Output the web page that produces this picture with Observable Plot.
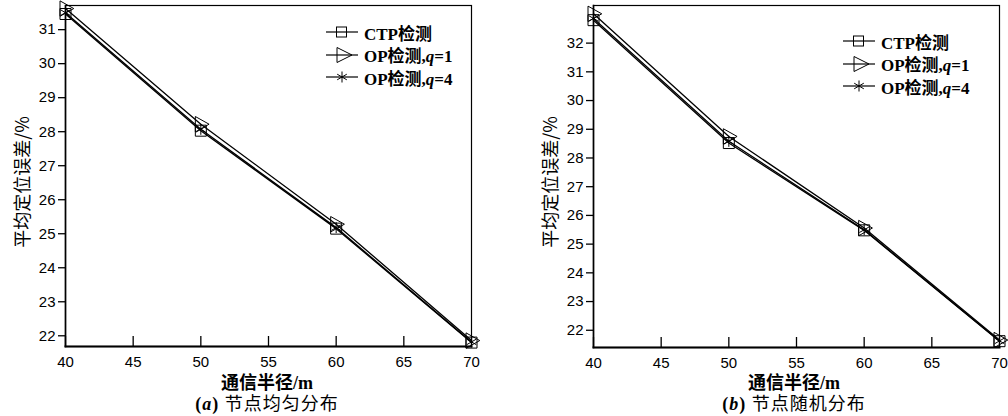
<!DOCTYPE html>
<html>
<head>
<meta charset="utf-8">
<script src="https://cdn.jsdelivr.net/npm/d3@7"></script>
<script src="https://cdn.jsdelivr.net/npm/@observablehq/plot@0.6"></script>
<style>
  html, body { margin: 0; padding: 0; background: #fff; }
  body { width: 1008px; height: 416px; overflow: hidden; position: relative; color: #000; }
  .panel { position: absolute; top: 0; width: 504px; height: 416px; }
  .panel svg { display: block; }
  .lbl { position: absolute; white-space: nowrap; transform: translate(-50%, -50%); color: #000; }
  .xlab { font-family: "Liberation Serif", "Noto Sans CJK SC", serif; font-weight: bold; font-size: 18px; }
  .cap { font-family: "Liberation Serif", "Noto Sans CJK SC", serif; font-size: 18px; letter-spacing: 1px; }
  .ylab { font-family: "Noto Sans CJK SC", sans-serif; font-size: 18px; transform: translate(-50%, -50%) rotate(-90deg); }
  .legend { position: absolute; font-family: "Liberation Serif", "Noto Sans CJK SC", serif; font-weight: bold; font-size: 17px; }
  .legend .row { display: flex; align-items: center; height: 22.5px; }
  .legend svg { margin-right: 4px; }
</style>
</head>
<body>
<script>
// ---- data ----
const radius = [40, 50, 60, 70];
const seriesNames = ["CTP检测", "OP检测,q=1", "OP检测,q=4"];
// (a) 节点均匀分布
const uniformCTP = [31.46, 28.03, 25.15, 21.80];
const uniformQ1  = [31.62, 28.22, 25.28, 21.86];
const uniformQ4  = [31.50, 28.07, 25.18, 21.82];
// (b) 节点随机分布
const randomCTP = [32.80, 28.52, 25.48, 21.62];
const randomQ1  = [33.02, 28.75, 25.56, 21.66];
const randomQ4  = [32.86, 28.58, 25.50, 21.63];
const xTicks  = [40, 45, 50, 55, 60, 65, 70];
const yTicksA = [22, 23, 24, 25, 26, 27, 28, 29, 30, 31];
const yTicksB = [22, 23, 24, 25, 26, 27, 28, 29, 30, 31, 32];
const xLabel = "通信半径/m";
const yLabel = "平均定位误差/%";
const captionA = ["(", "a", ") 节点均匀分布"];
const captionB = ["(", "b", ") 节点随机分布"];

// ---- symbols ----
const symSquare = {draw(ctx, size) { const r = Math.sqrt(size / Math.PI);
  ctx.moveTo(-r, -r); ctx.lineTo(r, -r); ctx.lineTo(r, r); ctx.lineTo(-r, r); ctx.closePath(); }};
const symTri = {draw(ctx, size) { const r = Math.sqrt(size / Math.PI);
  ctx.moveTo(-r, -1.4 * r); ctx.lineTo(1.5 * r, 0); ctx.lineTo(-r, 1.4 * r); ctx.closePath(); }};
const symAst = {draw(ctx, size) { const r = Math.sqrt(size / Math.PI);
  const c = r * Math.cos(Math.PI / 6), s = r * Math.sin(Math.PI / 6);
  ctx.moveTo(0, -r); ctx.lineTo(0, r);
  ctx.moveTo(-c, -s); ctx.lineTo(c, s);
  ctx.moveTo(-c, s); ctx.lineTo(c, -s); }};

function rows(seriesValues) {
  return seriesValues.flatMap((vals, i) => vals.map((v, j) => ({r: radius[j], v, s: seriesNames[i]})));
}

function makePanel(values, yDomain, yTicks, m) {
  const data = rows(values);
  return Plot.plot({
    width: 504, height: 416,
    marginLeft: m[0], marginRight: m[1], marginTop: m[2], marginBottom: m[3],
    x: {domain: [40, 70]},
    y: {domain: yDomain},
    symbol: {domain: seriesNames, range: [symSquare, symTri, symAst]},
    style: {fontFamily: "'Liberation Sans', Arial, sans-serif", fontSize: "15px", color: "#000", background: "transparent", overflow: "visible"},
    marks: [
      Plot.frame({stroke: "#000", strokeWidth: 1.2}),
      Plot.frame({anchor: "bottom", stroke: "#000", strokeWidth: 2}),
      Plot.frame({anchor: "left", stroke: "#000", strokeWidth: 1.6}),
      Plot.axisX({ticks: xTicks, tickSize: -10, tickFormat: () => "", label: null, strokeWidth: 1.3}),
      Plot.axisX({ticks: xTicks, tickSize: 0, tickPadding: 10, label: null, fontSize: 15}),
      Plot.axisY({ticks: yTicks, tickSize: 7, tickPadding: 3, label: null, fontSize: 15, strokeWidth: 1.3}),
      Plot.line(data, {x: "r", y: "v", z: "s", stroke: "#000", strokeWidth: 1.3}),
      Plot.dot(data, {x: "r", y: "v", symbol: "s", r: 5.5, stroke: "#000", fill: "none", strokeWidth: 1})
    ]
  });
}

function addLabel(cls, x, y, html) {
  const d = document.createElement("div");
  d.className = "lbl " + cls;
  d.style.left = x + "px"; d.style.top = y + "px";
  d.innerHTML = html;
  document.body.appendChild(d);
}

const legendSvgs = [
  '<svg width="34" height="18"><line x1="0" y1="9" x2="32" y2="9" stroke="#000" stroke-width="1.2"/><rect x="10.5" y="4" width="10" height="10" fill="none" stroke="#000"/></svg>',
  '<svg width="34" height="18"><line x1="0" y1="9" x2="32" y2="9" stroke="#000" stroke-width="1.2"/><path d="M11,1.5L26,9L11,16.5Z" fill="none" stroke="#000"/></svg>',
  '<svg width="34" height="18"><line x1="0" y1="9" x2="32" y2="9" stroke="#000" stroke-width="1.2"/><path d="M16,3.5V14.5M11.2,6.2L20.8,11.8M11.2,11.8L20.8,6.2" fill="none" stroke="#000"/></svg>'
];
const legendHtml = ["CTP检测", "OP检测,<i>q</i>=1", "OP检测,<i>q</i>=4"];

function addLegend(x, y) {
  const d = document.createElement("div");
  d.className = "legend";
  d.style.left = x + "px"; d.style.top = y + "px";
  d.innerHTML = legendHtml.map((t, i) => `<div class="row">${legendSvgs[i]}<span>${t}</span></div>`).join("");
  document.body.appendChild(d);
}

const pa = document.createElement("div"); pa.className = "panel"; pa.style.left = "0px";
pa.appendChild(makePanel([uniformCTP, uniformQ1, uniformQ4], [21.685, 31.71], yTicksA, [65, 33, 5, 70]));
document.body.appendChild(pa);

const pb = document.createElement("div"); pb.className = "panel"; pb.style.left = "504px";
pb.appendChild(makePanel([randomCTP, randomQ1, randomQ4], [21.40, 33.31], yTicksB, [89, 9, 5, 69]));
document.body.appendChild(pb);

addLabel("ylab", 21, 182, yLabel);
addLabel("ylab", 549, 182, yLabel);
addLabel("xlab", 267, 381, xLabel);
addLabel("xlab", 794, 381, xLabel);
addLabel("cap", 267, 402, `<b>${captionA[0]}<i>${captionA[1]}</i>${captionA[2].slice(0,1)}</b>${captionA[2].slice(1)}`);
addLabel("cap", 794, 402, `<b>${captionB[0]}<i>${captionB[1]}</i>${captionB[2].slice(0,1)}</b>${captionB[2].slice(1)}`);
addLegend(326, 21);
addLegend(843, 30);
</script>
</body>
</html>
